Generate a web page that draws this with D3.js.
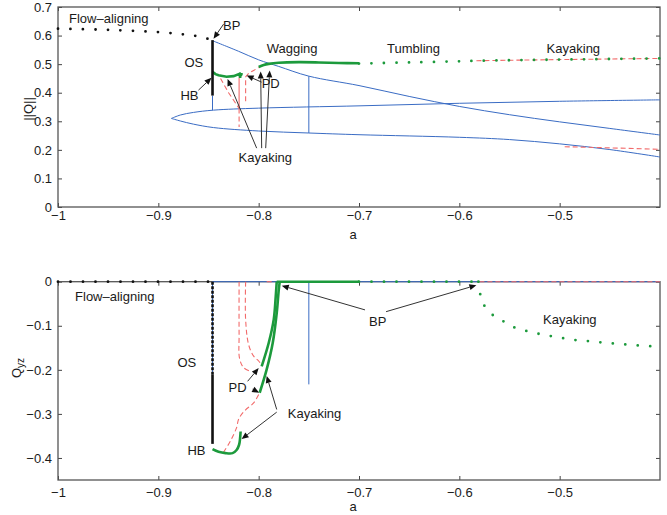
<!DOCTYPE html>
<html lang="en">
<head>
<meta charset="UTF-8">
<title>Bifurcation diagram</title>
<script src="https://d3js.org/d3.v7.min.js"></script>
<style>
body { margin: 0; background: #fff; }
text { font-family: "Liberation Sans", Arial, Helvetica, sans-serif; font-size: 13px; fill: #1a1a1a; }
</style>
</head>
<body>
<script>

var width = 667,
    height = 515;

// ticks
var aTicks = [-1, -0.9, -0.8, -0.7, -0.6, -0.5];
var normTicks = [0, 0.1, 0.2, 0.3, 0.4, 0.5, 0.6, 0.7];
var qyzTicks = [0, -0.1, -0.2, -0.3, -0.4];

// ---- top panel : ||Q|| against a ----
var flowTop = [[-1, 0.624], [-0.95, 0.62], [-0.9, 0.612], [-0.875, 0.604], [-0.86, 0.597], [-0.846, 0.584]];
var osTop = [[-0.846, 0.584], [-0.846, 0.39]];
var blueUpper = [[-0.846, 0.582], [-0.82, 0.545], [-0.8, 0.515], [-0.78, 0.492], [-0.75, 0.458], [-0.7, 0.425],
                 [-0.65, 0.387], [-0.6, 0.352], [-0.55, 0.323], [-0.5, 0.298], [-0.45, 0.275], [-0.4, 0.252]];
var loopUpper = [[-0.887, 0.31], [-0.878, 0.322], [-0.865, 0.331], [-0.845, 0.339], [-0.8, 0.346],
                 [-0.7, 0.354], [-0.6, 0.363], [-0.5, 0.37], [-0.4, 0.375]];
var loopLower = [[-0.887, 0.31], [-0.878, 0.301], [-0.865, 0.29], [-0.845, 0.278], [-0.8, 0.266], [-0.75, 0.259],
                 [-0.7, 0.253], [-0.6, 0.244], [-0.55, 0.236], [-0.5, 0.221], [-0.45, 0.201], [-0.4, 0.175]];
var blueVertTop = [[[-0.846, 0.39], [-0.846, 0.339]], [[-0.75, 0.458], [-0.75, 0.259]]];
var greenTopA = [[-0.846, 0.473], [-0.843, 0.465], [-0.84, 0.461], [-0.832, 0.456], [-0.825, 0.458],
                 [-0.819, 0.466], [-0.8185, 0.452], [-0.818, 0.466], [-0.816, 0.463]];
var greenTopB = [[-0.8, 0.49], [-0.795, 0.497], [-0.79, 0.501], [-0.78, 0.505], [-0.76, 0.507],
                 [-0.74, 0.506], [-0.72, 0.504], [-0.7, 0.503]];
var greenDotTop = [[-0.7, 0.502], [-0.65, 0.506], [-0.6, 0.51], [-0.58, 0.512], [-0.5, 0.516], [-0.45, 0.518], [-0.4, 0.52]];
var redSolidTop = [[-0.8195, 0.452], [-0.8195, 0.345]];
var redDashTop = [
  [[-0.838, 0.45], [-0.83, 0.4], [-0.8195, 0.345]],
  [[-0.8195, 0.345], [-0.8195, 0.28]],
  [[-0.813, 0.37], [-0.813, 0.455], [-0.81, 0.468], [-0.805, 0.478], [-0.8, 0.488]],
  [[-0.583, 0.512], [-0.5, 0.516], [-0.4, 0.52]],
  [[-0.495, 0.211], [-0.45, 0.207], [-0.4, 0.202]]
];

// ---- bottom panel : Q_yz against a ----
var flowBot = [[-1, 0], [-0.846, 0]];
var osBotDots = [[-0.846, 0], [-0.846, -0.21]];
var osBotSolid = [[-0.846, -0.21], [-0.846, -0.368]];
var blueBot = [[[-0.846, 0], [-0.4, 0]], [[-0.846, 0], [-0.846, -0.21]], [[-0.75, 0], [-0.75, -0.233]]];
var greenHB = [[-0.846, -0.38], [-0.84, -0.386], [-0.833, -0.389], [-0.826, -0.389], [-0.822, -0.382],
               [-0.8195, -0.37], [-0.8185, -0.355], [-0.818, -0.34]];
var greenC1 = [[-0.797, -0.192], [-0.79, -0.139], [-0.785, -0.086], [-0.783, -0.034], [-0.782, 0]];
var greenC2 = [[-0.799, -0.252], [-0.792, -0.199], [-0.786, -0.139], [-0.782, -0.071], [-0.78, -0.019], [-0.779, 0]];
var greenZero = [[-0.782, 0], [-0.7, 0]];
var greenDotFlat = [[-0.7, 0], [-0.581, 0]];
var greenDotBot = [[-0.581, 0], [-0.578, -0.041], [-0.573, -0.06], [-0.566, -0.077], [-0.556, -0.09],
                   [-0.545, -0.104], [-0.531, -0.113], [-0.517, -0.12], [-0.502, -0.126], [-0.486, -0.132],
                   [-0.47, -0.135], [-0.453, -0.139], [-0.436, -0.142], [-0.42, -0.145], [-0.4, -0.147]];
var redDashBot = [
  [[-0.8195, 0], [-0.8195, -0.12], [-0.819, -0.175], [-0.815, -0.195], [-0.808, -0.204]],
  [[-0.813, 0], [-0.813, -0.086], [-0.81, -0.143], [-0.805, -0.169], [-0.8, -0.18], [-0.797, -0.19]],
  [[-0.8, -0.256], [-0.805, -0.275], [-0.814, -0.293], [-0.82, -0.312], [-0.822, -0.331], [-0.828, -0.361], [-0.835, -0.387]],
  [[-0.58, 0], [-0.4, 0]],
  [[-0.792, 0], [-0.785, 0]]
];

// annotations: text, a, value
var labelsTop = [["Flow\u2013aligning", -0.989, 0.643], ["BP", -0.8355, 0.621], ["OS", -0.874, 0.49],
                 ["Wagging", -0.792, 0.538], ["Tumbling", -0.672, 0.538], ["Kayaking", -0.513, 0.538],
                 ["HB", -0.878, 0.374], ["PD", -0.797, 0.416], ["Kayaking", -0.82, 0.157]];
var labelsBot = [["Flow\u2013aligning", -0.983, -0.044], ["OS", -0.881, -0.193], ["PD", -0.83, -0.251],
                 ["HB", -0.871, -0.393], ["Kayaking", -0.771, -0.31], ["BP", -0.69, -0.1], ["Kayaking", -0.5165, -0.0955]];
// arrows: from [a, value] to [a, value]
var arrowsTop = [[-0.835, 0.64, -0.845, 0.589], [-0.86, 0.409, -0.847, 0.452], [-0.797, 0.437, -0.812, 0.46],
                 [-0.802, 0.206, -0.831, 0.448], [-0.797, 0.206, -0.798, 0.474], [-0.793, 0.206, -0.789, 0.478]];
var arrowsBot = [[-0.694, -0.064, -0.777, -0.009], [-0.673, -0.068, -0.583, -0.008],
                 [-0.811, -0.226, -0.8, -0.196], [-0.806, -0.244, -0.7995, -0.252],
                 [-0.782, -0.296, -0.817, -0.357], [-0.782, -0.29, -0.792, -0.214]];

var blue = "#3a6cc4", green = "#1c9a3c", red = "#f26b6b", black = "#111";

var svg = d3.select("body").append("svg")
    .attr("width", width)
    .attr("height", height);

var x = d3.scaleLinear().domain([-1, -0.4]).range([58, 660]);
var yTop = d3.scaleLinear().domain([0, 0.7]).range([207, 7]);
var yBot = d3.scaleLinear().domain([-0.45, 0]).range([480, 281.7]);

function fmt(d) { return d3.format("")(d).replace("-", "\u2212"); }

function panel(y, yTicks, xPad) {
    var g = svg.append("g");
    var x0 = x.range()[0], x1 = x.range()[1], y0 = y.range()[1], y1 = y.range()[0];
    g.append("g").attr("transform", "translate(0," + y1 + ")")
        .call(d3.axisBottom(x).tickValues(aTicks).tickSize(-4).tickPadding(xPad).tickFormat(fmt));
    g.append("g").attr("transform", "translate(0," + y0 + ")")
        .call(d3.axisTop(x).tickValues(aTicks).tickSize(-4).tickFormat(""));
    g.append("g").attr("transform", "translate(" + x0 + ",0)")
        .call(d3.axisLeft(y).tickValues(yTicks).tickSize(-4).tickPadding(6).tickFormat(fmt));
    g.append("g").attr("transform", "translate(" + x1 + ",0)")
        .call(d3.axisRight(y).tickValues(yTicks).tickSize(-4).tickFormat(""));
    g.selectAll(".domain").remove();
    g.selectAll(".tick line").attr("stroke", "#444");
    g.selectAll(".tick text").style("font-size", "13px").attr("fill", "#1a1a1a");
    g.append("rect").attr("x", x0).attr("y", y0).attr("width", x1 - x0).attr("height", y1 - y0)
        .attr("fill", "none").attr("stroke", "#555").attr("stroke-width", 1.3);
    return g;
}

var gTop = panel(yTop, normTicks, 4);
var gBot = panel(yBot, qyzTicks, 8);

function draw(g, y, pts, color, w, style, curve) {
    var line = d3.line().x(function(d) { return x(d[0]); }).y(function(d) { return y(d[1]); })
        .curve(curve || d3.curveLinear);
    var p = g.append("path").datum(pts).attr("d", line)
        .attr("fill", "none").attr("stroke", color).attr("stroke-width", w);
    if (style === "dash") p.attr("stroke-dasharray", "5,3");
    if (style === "dot") p.attr("stroke-dasharray", "0,12.5").attr("stroke-linecap", "round");
    if (style === "fine") p.attr("stroke-dasharray", "3,1.5");
    return p;
}
var smooth = d3.curveCatmullRom.alpha(0.5);

// top panel curves
draw(gTop, yTop, blueUpper, blue, 1, null, smooth);
draw(gTop, yTop, loopUpper, blue, 1, null, smooth);
draw(gTop, yTop, loopLower, blue, 1, null, smooth);
blueVertTop.forEach(function(s) { draw(gTop, yTop, s, blue, 1); });
draw(gTop, yTop, redSolidTop, red, 1.1);
redDashTop.forEach(function(s) { draw(gTop, yTop, s, red, 1.1, "dash"); });
draw(gTop, yTop, greenTopA, green, 2.6);
draw(gTop, yTop, greenTopB, green, 2.6, null, smooth);
draw(gTop, yTop, greenDotTop, green, 2.8, "dot", smooth);
draw(gTop, yTop, flowTop, black, 2.8, "dot", smooth);
draw(gTop, yTop, osTop, black, 2.6);

// bottom panel curves
blueBot.forEach(function(s) { draw(gBot, yBot, s, blue, 1); });
redDashBot.forEach(function(s) { draw(gBot, yBot, s, red, 1.1, "dash", smooth); });
draw(gBot, yBot, greenHB, green, 2.6, null, smooth);
draw(gBot, yBot, greenC1, green, 2.6, null, smooth);
draw(gBot, yBot, greenC2, green, 2.6, null, smooth);
draw(gBot, yBot, greenZero, green, 2.6);
draw(gBot, yBot, greenDotFlat, green, 2.8, "dot");
draw(gBot, yBot, greenDotBot, green, 2.8, "dot", d3.curveMonotoneX);
draw(gBot, yBot, flowBot, black, 2.8, "dot");
draw(gBot, yBot, osBotDots, black, 2.6, "fine");
draw(gBot, yBot, osBotSolid, black, 2.6);

// arrows
function arrows(g, y, list) {
    list.forEach(function(d) {
        var x1 = x(d[0]), y1 = y(d[1]), x2 = x(d[2]), y2 = y(d[3]);
        var ang = Math.atan2(y2 - y1, x2 - x1), L = 7, W = 3;
        var bx = x2 - L * Math.cos(ang), by = y2 - L * Math.sin(ang);
        g.append("line").attr("x1", x1).attr("y1", y1).attr("x2", bx).attr("y2", by)
            .attr("stroke", "#333").attr("stroke-width", 1);
        g.append("path")
            .attr("d", "M" + x2 + "," + y2 +
                "L" + (bx + W * Math.sin(ang)) + "," + (by - W * Math.cos(ang)) +
                "L" + (bx - W * Math.sin(ang)) + "," + (by + W * Math.cos(ang)) + "Z")
            .attr("fill", black);
    });
}
arrows(gTop, yTop, arrowsTop);
arrows(gBot, yBot, arrowsBot);

// labels
function labels(g, y, list) {
    g.selectAll(null).data(list).enter().append("text")
        .attr("x", function(d) { return x(d[1]); })
        .attr("y", function(d) { return y(d[2]); })
        .text(function(d) { return d[0]; });
}
labels(gTop, yTop, labelsTop);
labels(gBot, yBot, labelsBot);

// axis titles
svg.append("text").attr("x", 353).attr("y", 239).attr("text-anchor", "middle").text("a");
svg.append("text").attr("x", 353).attr("y", 511).attr("text-anchor", "middle").text("a");
svg.append("text").attr("transform", "translate(33,109) rotate(-90)").attr("text-anchor", "middle").text("||Q||");
var qyz = svg.append("text").attr("transform", "translate(21,368) rotate(-90)").attr("text-anchor", "middle");
qyz.append("tspan").text("Q");
qyz.append("tspan").attr("dy", 3).style("font-size", "10px").text("yz");

</script>
</body>
</html>
